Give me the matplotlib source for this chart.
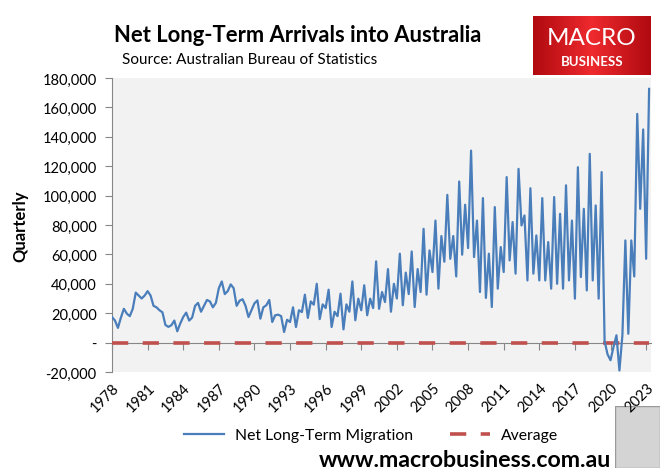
import numpy as np
import matplotlib
matplotlib.use("Agg")
import matplotlib.pyplot as plt
from matplotlib.colors import LinearSegmentedColormap
from matplotlib.patches import Rectangle

plt.rcParams['font.family'] = ['Lato', 'DejaVu Sans']

# quarterly net long-term arrivals, thousands, 1978 Q1 onwards
migration_k = [
    17.4, 15, 10, 17, 23, 19.7, 18, 23,
    34, 32, 30, 32,
    35, 32, 25, 24,
    22, 20.6, 12, 10.7,
    11.8, 15, 7.7, 13,
    17.4, 20.4, 15, 17,
    25, 27,
    21, 25, 29, 28, 24, 27,
    37, 41.6, 33, 35, 39.6, 37,
    25, 28.5, 29.5, 25, 17.4, 22,
    26.7, 28.7, 16.3, 24, 25.4, 29,
    14, 18.6, 19, 18, 7.2, 15.5,
    14, 24, 10.6, 22, 20.8, 32.6,
    16.8, 28, 25.8, 40, 16, 26,
    23.5, 36, 10.6, 21, 18, 33.3,
    9, 26, 21, 41.6, 15.2, 29.9,
    22, 39, 18.6, 29.9, 23.5, 55.3,
    23, 34.4, 27.6, 50, 21, 40,
    30, 60.5, 25.4, 47.6, 33, 62,
    24.2, 50, 34.4, 77.4, 32.6, 62.7,
    48, 83, 36.7, 72.5, 55, 100.5,
    57, 72.5, 45, 109.6, 59.8, 93.8,
    64.3, 130.6, 58.2, 83, 34.4, 98.3,
    30.4, 60.5, 24.2, 92.2, 36.7, 65,
    48, 112.6, 55.9, 82, 46.9, 118.2,
    79.7, 86.5, 42.3, 105, 46.9, 72.9,
    42.3, 98.3, 42.3, 68.4, 36.7, 99,
    40, 87.6, 36.7, 107, 42.3, 83,
    29.9, 119.3, 44.6, 91, 35.5, 128.4,
    42.3, 93.3, 29.9, 116, 1, -8,
    -12, -3, 5, -19, 5, 69.5,
    6, 69.5, 45, 155.6, 91, 145,
    57, 172.6,
]
average_k = 0  # the "Average" series sits on zero in the source chart
start_year = 1978
tick_years = list(range(1978, 2024, 3))
y_ticks = list(range(-20000, 180001, 20000))

migration = np.array(migration_k) * 1000
quarters = start_year + np.arange(len(migration)) / 4
average = np.full(len(migration), average_k * 1000)

fig = plt.figure(figsize=(6.66, 4.77), dpi=100)

# wolf badge placeholder (behind everything else)
badge = fig.add_axes([615/666, 1-469/477, 45/666, 62/477], zorder=-1)
badge.add_patch(Rectangle((0, 0), 1, 1, facecolor='#D4D4D4', edgecolor='#9A9A9A'))
badge.set_axis_off()

ax = fig.add_axes([112/666, 1-373/477, 539/666, 294/477])
ax.set_facecolor('#F2F2F2')

ax.plot(quarters, average, color='#C0504D', lw=2.6, dashes=(4.5, 4), zorder=3,
        label='Average')
ax.plot(quarters, migration, color='#4A7EBB', lw=1.6, zorder=4,
        label='Net Long-Term Migration')

ax.set_xlim(1978, 2023.41)
ax.set_ylim(-20000, 180000)
ax.set_yticks(y_ticks)
ax.set_yticklabels(['-' if v == 0 else f'{v:,}' for v in y_ticks], fontsize=10.5)
ax.set_xticks(tick_years)
ax.set_xticklabels([str(y) for y in tick_years], rotation=45, ha='right',
                   rotation_mode='anchor', fontsize=10.5)
ax.tick_params(axis='x', length=0, pad=6)
ax.tick_params(axis='y', direction='out', length=5, color='#868686', pad=6)
for side in ['top', 'right', 'bottom']:
    ax.spines[side].set_visible(False)
ax.spines['left'].set_color('#868686')

# horizontal axis line crosses at zero
zero_axis = ax.secondary_xaxis(0.1)
zero_axis.set_xticks(tick_years)
zero_axis.tick_params(direction='out', length=5, color='#868686', labelbottom=False)
zero_axis.spines['bottom'].set_color('#868686')
zero_axis.set_zorder(1)

ax.set_ylabel('Quarterly', fontsize=12, fontweight='bold', labelpad=10)

fig.text(298/666, 1-35/477, 'Net Long-Term Arrivals into Australia',
         ha='center', va='center', fontsize=15.8, fontweight='bold')
fig.text(122/666, 1-60/477, 'Source: Australian Bureau of Statistics',
         ha='left', va='center', fontsize=11)

handles, labels = ax.get_legend_handles_labels()
fig.legend(handles[::-1], labels[::-1], loc='center', ncol=2,
           bbox_to_anchor=(371/666, 1-436/477), frameon=False, fontsize=11.3,
           handlelength=2.6, handletextpad=0.7, columnspacing=2.3)

fig.text(465/666, 1-461/477, 'www.macrobusiness.com.au', ha='center',
         va='center', fontsize=16.7, fontweight='bold')

# MacroBusiness logo block
logo = fig.add_axes([533/666, 1-76/477, 118/666, 59/477])
reds = LinearSegmentedColormap.from_list('reds', ['#B00A10', '#EE2A2E', '#B00A10'])
logo.imshow(np.linspace(0, 1, 200)[None, :], aspect='auto', cmap=reds,
            extent=(0, 1, 0, 1))
logo.text(0.5, 0.63, 'MACRO', color='white', ha='center', va='center',
          fontsize=17.5)
logo.text(0.5, 0.23, 'BUSINESS', color='white', ha='center', va='center',
          fontsize=9.5, fontweight='bold')
logo.set_axis_off()

fig.savefig('out.png', dpi=100)
